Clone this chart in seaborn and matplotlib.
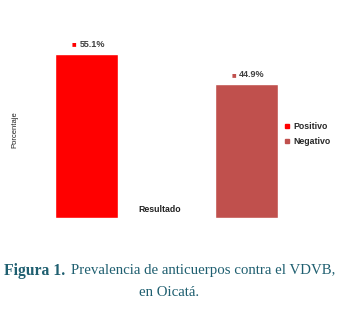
import seaborn as sns
import matplotlib.pyplot as plt
from matplotlib.lines import Line2D
import pandas as pd

resultado = ['Positivo', 'Negativo']
porcentaje = [55.1, 44.9]
colores = ['#FF0000', '#C0504D']

df = pd.DataFrame({'Resultado': resultado, 'Porcentaje': porcentaje})

sns.set_style('white')
plt.rcParams['font.family'] = ['Liberation Sans', 'DejaVu Sans']

fig = plt.figure(figsize=(3.39, 3.12), dpi=100)
ax = fig.add_axes([0.118, 0.301, 0.708, 0.5724])

sns.barplot(data=df, x='Resultado', y='Porcentaje', hue='Resultado',
            palette=colores, width=0.395, saturation=1, legend=False, ax=ax)

ax.set_xlim(-0.2915, 1.213)
ax.set_ylim(0, 60)
ax.set_xticks([])
ax.set_yticks([])
sns.despine(ax=ax, left=True, bottom=True)
ax.set_xlabel('')
ax.set_ylabel('')

# etiquetas de valor
for i, (v, c) in enumerate(zip(porcentaje, colores)):
    ax.annotate('■', xy=(i, v), xytext=(-9, 4), textcoords='offset points',
                ha='center', va='bottom', fontsize=5.5, color=c)
    ax.annotate(f'{v}%', xy=(i, v), xytext=(-5, 4), textcoords='offset points',
                ha='left', va='bottom', fontsize=6.5, fontweight='bold', color='#404040')

ax.text(0.5, 0.025, 'Resultado', transform=ax.transAxes, ha='center', va='bottom',
        fontsize=6.3, fontweight='bold', color='#222222')
fig.text(0.043, 0.585, 'Porcentaje', rotation=90, ha='center', va='center',
         fontsize=5.5, color='#222222')

handles = [Line2D([], [], marker='s', linestyle='', markersize=3.5, color=c) for c in colores]
fig.legend(handles, resultado, loc='upper left', bbox_to_anchor=(0.815, 0.635),
           frameon=False, handlelength=0.6, handletextpad=0.4,
           labelspacing=0.75, prop={'weight': 'bold', 'size': 6.3})

# pie de figura
cap_color = '#1F5F70'
t1 = fig.text(0.013, 0.132, 'Figura 1.', family='Liberation Serif', fontsize=11.3,
              fontweight='bold', color=cap_color, ha='left', va='center')
plt.annotate('Prevalencia de anticuerpos contra el VDVB,', xy=(1, 0.5), xycoords=t1,
             xytext=(4, 0), textcoords='offset points', family='Liberation Serif',
             fontsize=10.75, color=cap_color, ha='left', va='center',
             annotation_clip=False)
fig.text(0.5, 0.062, 'en Oicatá.', family='Liberation Serif', fontsize=10.75,
         color=cap_color, ha='center', va='center')

fig.savefig('out.png', dpi=100)
